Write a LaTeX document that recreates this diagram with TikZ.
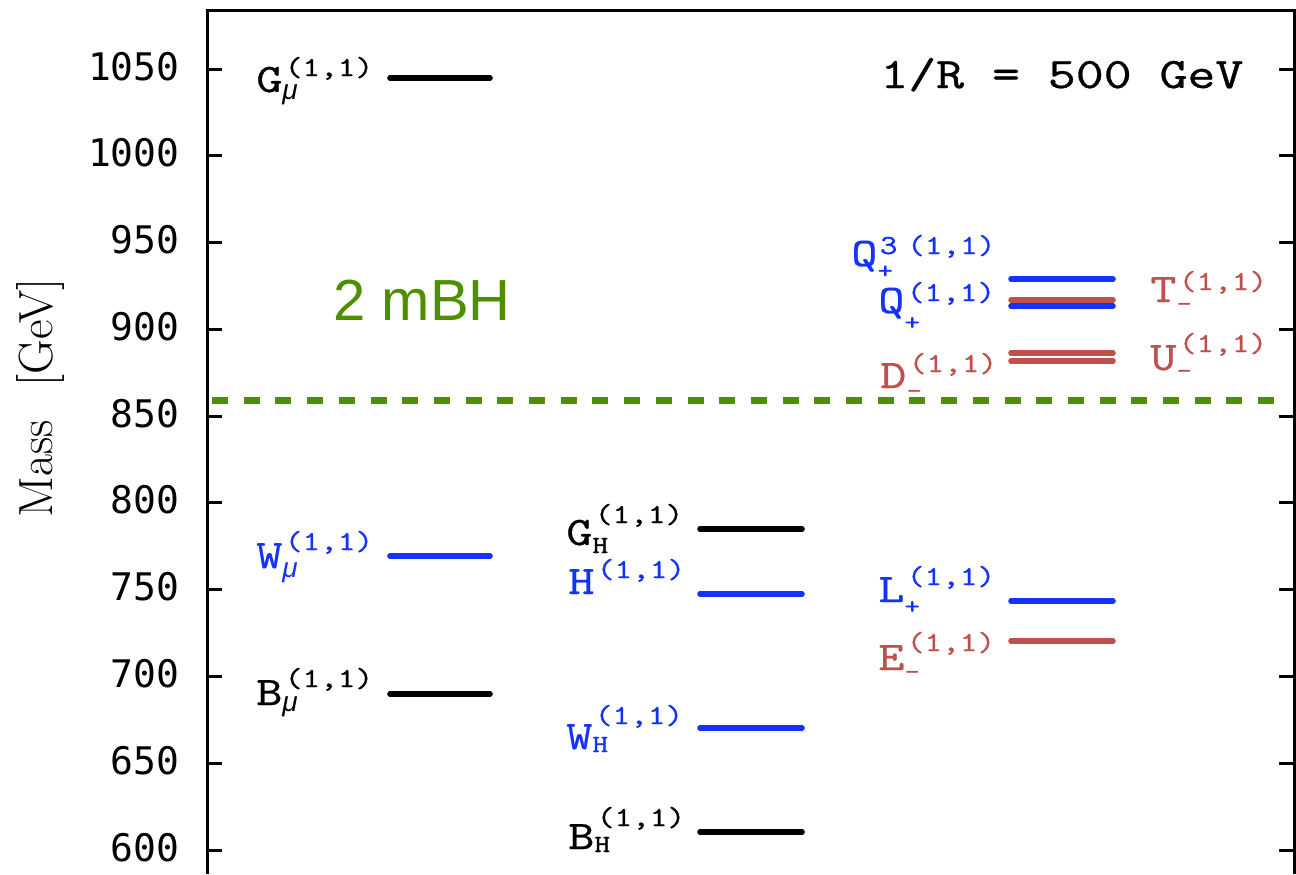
\documentclass[tikz,border=0pt]{standalone}
\usepackage{fontspec}
\newfontfamily\cmono[FakeStretch=1.22, FakeBold=0.6]{lmmono10-regular.otf}
\newfontfamily\tickf{DejaVu Sans Mono}
\newfontfamily\lsans{Liberation Sans}
\definecolor{kkblue}{RGB}{20,50,250}
\definecolor{kkred}{RGB}{192,80,77}
\definecolor{kkgreen}{RGB}{78,143,0}
% #1 raise of superscript, #2 lowering of subscript, #3 letter, #4 subscript, #5 superscript
\newcommand\plab[5]{{\fontsize{20.3}{20}\selectfont #3}\rlap{\raisebox{-#2pt}{\fontsize{12.3}{12}\selectfont #4}}\kern1.2pt\raisebox{#1pt}{\fontsize{13.8}{13}\selectfont #5}}
\newcommand\mysub{{\lsans\itshape\fontsize{14}{14}\selectfont μ}}
\tikzset{
  frameline/.style={line width=1.5pt, line join=miter},
  level/.style={line width=2.8pt, line cap=round},
  lab/.style={anchor=base west, inner sep=0pt, font=\cmono},
  ticklab/.style={anchor=base east, inner sep=0pt, font=\tickf\fontsize{19}{19}\selectfont},
}
\begin{document}
\begin{tikzpicture}[x=0.5pt, y=-0.5pt]
\useasboundingbox (0,0) rectangle (1296,874);
% frame
\draw[frameline] (207,874) -- (207,10) -- (1294,10) -- (1294,874);
% ticks and labels
\foreach \m in {600,650,...,1050}{
  \pgfmathsetmacro{\yy}{69+(1050-\m)*1.7356}
  \draw[frameline] (207,\yy) -- (222,\yy);
  \draw[frameline] (1279,\yy) -- (1294,\yy);
  \node[ticklab] (t\m) at (180,\yy+11) {\m};
}
% axis title
\node[rotate=90, anchor=base, inner sep=0pt, font=\fontsize{24}{24}\selectfont] (ytitle) at (53,398) {Mass\hspace{0.7em}[GeV]};
% 1/R
\node[lab, font=\cmono\fontsize{21.8}{22}\selectfont] (rinv) at (880,88) {1/R = 500 GeV};
% 2 mBH threshold
\draw[kkgreen, line width=3.5pt, dash pattern=on 8pt off 7.85pt] (212,400) -- (1283,400);
\node[lab, text=kkgreen, font=\lsans\fontsize{29}{29}\selectfont] (mbh) at (333,320) {2 mBH};
% column 1
\draw[level, black]  (390,78)  -- (490,78);
\draw[level, kkblue] (390,556) -- (490,556);
\draw[level, black]  (390,694) -- (490,694);
\node[lab] (Gmu) at (256,92)  {\plab{8}{3.5}{G}{\mysub}{(1,1)}};
\node[lab, text=kkblue] (Wmu) at (256,568) {\plab{9}{4.5}{W}{\mysub}{(1,1)}};
\node[lab] (Bmu) at (256,705) {\plab{9}{3}{B}{\mysub}{(1,1)}};
% column 2
\draw[level, black]  (700,529) -- (802,529);
\draw[level, kkblue] (700,594) -- (802,594);
\draw[level, kkblue] (700,728) -- (802,728);
\draw[level, black]  (700,832) -- (802,832);
\node[lab] (GH) at (566,545) {\plab{11}{4}{G}{H}{(1,1)}};
\node[lab, text=kkblue] (H) at (568,594) {\plab{8}{0}{H}{}{(1,1)}};
\node[lab, text=kkblue] (WH) at (566,749) {\plab{12.5}{1.5}{W}{H}{(1,1)}};
\node[lab] (BH) at (568,849) {\plab{11.5}{1.5}{B}{H}{(1,1)}};
% column 3
\draw[level, kkblue] (1011,279) -- (1113,279);
\draw[level, kkblue] (1011,306) -- (1113,306);
\draw[level, kkred]  (1011,300) -- (1113,300);
\draw[level, kkred]  (1011,353) -- (1113,353);
\draw[level, kkred]  (1011,361) -- (1113,361);
\draw[level, kkblue] (1011,601) -- (1113,601);
\draw[level, kkred]  (1011,641) -- (1113,641);
\node[lab, text=kkblue] (Q3) at (851,266) {\plab{6}{6.2}{Q}{+}{3\hspace{0.35em}(1,1)}};
\node[lab, text=kkblue] (Q) at (878,313) {\plab{6}{8.5}{Q}{+}{(1,1)}};
\node[lab, text=kkred] (D) at (880,388) {\plab{8}{5.2}{D}{-}{(1,1)}};
\node[lab, text=kkblue] (L) at (878,602) {\plab{8.5}{6}{L}{+}{(1,1)}};
\node[lab, text=kkred] (E) at (878,670) {\plab{9.5}{4.7}{E}{-}{(1,1)}};
\node[lab, text=kkred] (T) at (1150,302) {\plab{6}{4.7}{T}{-}{(1,1)}};
\node[lab, text=kkred] (U) at (1150,370) {\plab{9}{4.2}{U}{-}{(1,1)}};
\end{tikzpicture}
\end{document}
